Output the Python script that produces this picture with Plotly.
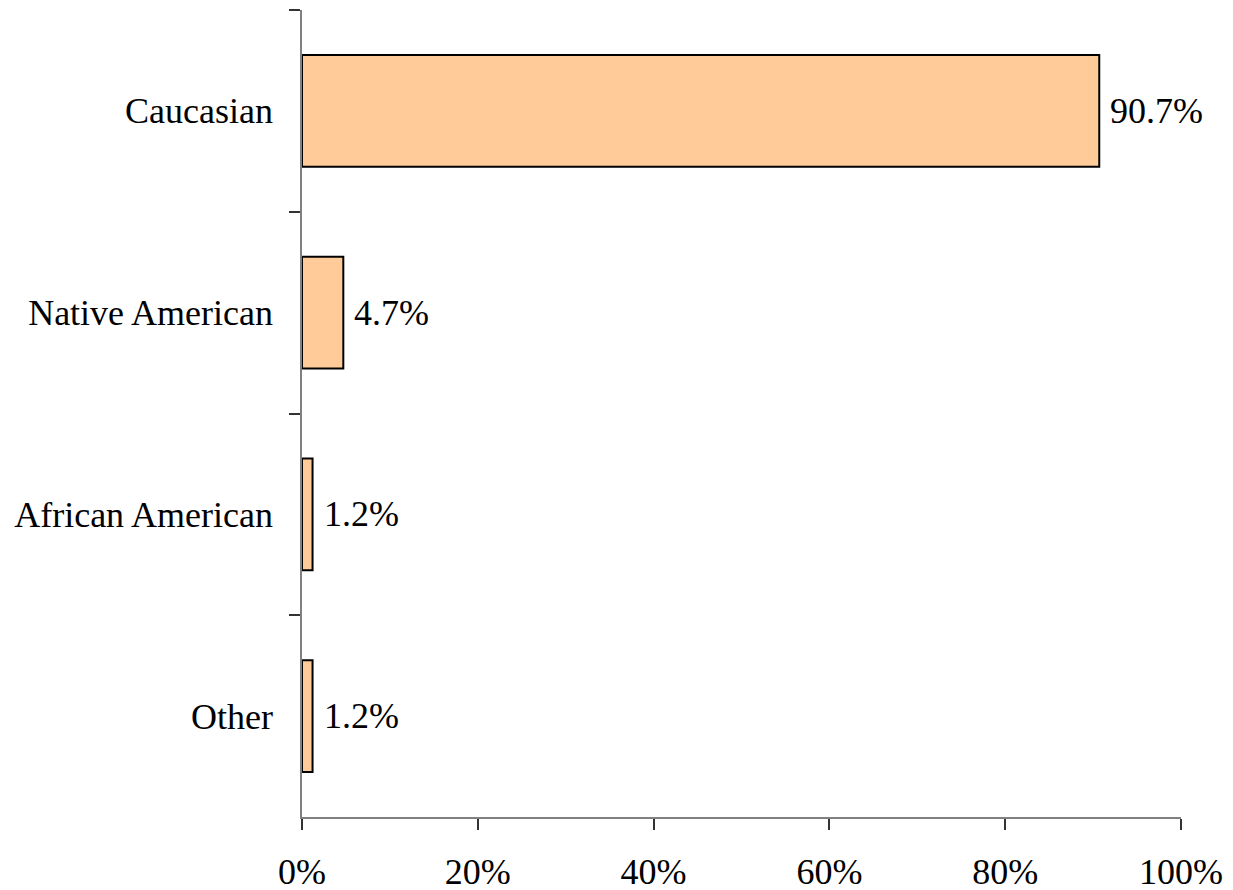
import plotly.graph_objects as go

categories = ["Caucasian", "Native American", "African American", "Other"]
percents = [90.7, 4.7, 1.2, 1.2]
x_ticks = [0, 20, 40, 60, 80, 100]
x_tick_labels = ["0%", "20%", "40%", "60%", "80%", "100%"]

serif = "Liberation Serif, Times New Roman, serif"

fig = go.Figure()
fig.add_trace(go.Bar(
    y=categories,
    x=percents,
    orientation="h",
    marker=dict(color="#FFCC99", line=dict(color="black", width=2)),
    hoverinfo="skip",
))

for cat, val in zip(categories, percents):
    fig.add_annotation(
        x=val, y=cat, text=f"{val:.1f}%", showarrow=False,
        xanchor="left", xshift=9, font=dict(family=serif, size=36, color="black"),
    )

# page body adds an 8px offset, so margins are trimmed to compensate
fig.update_layout(
    width=1233, height=890,
    margin=dict(l=294, r=60, t=2, b=81),
    plot_bgcolor="white", paper_bgcolor="white",
    bargap=0.445,
    showlegend=False,
    font=dict(family=serif, size=36, color="black"),
    xaxis=dict(
        range=[0, 100], tickvals=x_ticks, ticktext=x_tick_labels,
        showgrid=False, zeroline=False, automargin=False,
        showline=True, linecolor="#808080", linewidth=1.5,
        ticks="outside", ticklen=11, tickcolor="#333333", tickwidth=1.5,
        ticklabelstandoff=11,
    ),
    yaxis=dict(
        autorange="reversed", showgrid=False, zeroline=False, automargin=False,
        showline=True, linecolor="#808080", linewidth=1.5,
        ticks="outside", ticklen=11, tickcolor="#333333", tickwidth=1.5,
        tickson="boundaries", ticklabelstandoff=20,
    ),
)

fig.write_html("out.html")
